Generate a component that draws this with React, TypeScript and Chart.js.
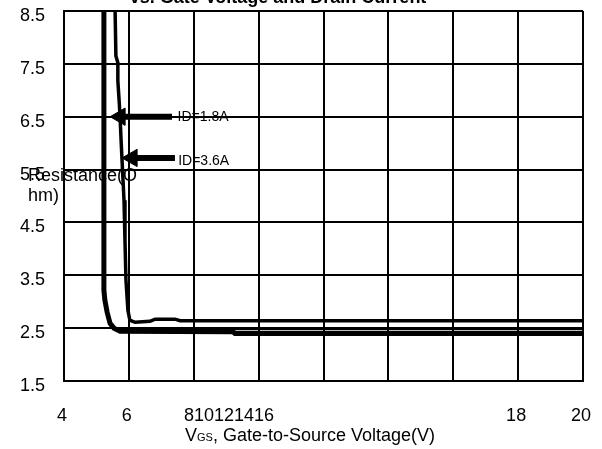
import React, { useEffect, useRef } from "react";
import { Chart, registerables } from "chart.js";

Chart.register(...registerables);

const FONT = "'Liberation Sans', Arial, Helvetica, sans-serif";

// ---- text ----
const TITLE = "vs. Gate Voltage and Drain Current";
const Y_TITLE_LINES = ["Resistance(O", "hm)"];
const X_TITLE_MAIN = "V";
const X_TITLE_SUB = "GS";
const X_TITLE_REST = ", Gate-to-Source Voltage(V)";

// ---- axes ----
const yTicks = [1.5, 2.5, 3.5, 4.5, 5.5, 6.5, 7.5, 8.5];
const xGridTicks = [4, 6, 8, 10, 12, 14, 16, 18, 20];
const xLabelValues = [4, 6, 9.15, 18, 20];
const xLabelTexts = ["4", "6", "810121416", "18", "20"];

// ---- series (Vgs, Rds(on) in Ohm) ----
const curveAX = [5.23, 5.23, 5.26, 5.33, 5.42, 5.54, 5.73, 9.21, 9.27, 20];
const curveAY = [8.7, 3.22, 3.03, 2.8, 2.59, 2.5, 2.44, 2.43, 2.4, 2.4];

const curveBX = [5.57, 5.6, 5.66, 5.66, 5.7, 5.73, 5.76, 5.79, 5.85, 5.88, 5.91, 5.97, 6.03, 6.19, 6.65, 6.81, 7.42, 7.58, 20];
const curveBY = [8.7, 7.65, 7.52, 7.18, 6.8, 6.48, 6.05, 5.67, 4.92, 4.16, 3.41, 2.84, 2.65, 2.61, 2.63, 2.67, 2.67, 2.64, 2.64];

const traceCX = [6.15, 20];
const traceCY = [2.475, 2.475];

// ---- arrows + labels ----
const arrowLabels = ["ID=1.8A", "ID=3.6A"];
const arrowHeadX = [5.73, 6.1];
const arrowTailX = [7.33, 7.42];
const arrowY = [6.5, 5.72];
const labelX = [7.5, 7.52];
const labelY = [6.5, 5.66];

const toPts = (xs: number[], ys: number[]) => xs.map((x, i) => ({ x, y: ys[i] }));

const textPlugin = {
  id: "textPlugin",
  afterDraw(chart: any) {
    const { ctx, chartArea, scales } = chart;
    const xs = scales.x;
    const ys = scales.y;
    ctx.save();
    ctx.fillStyle = "#000";

    // title (partly cut at the top)
    ctx.font = `bold 18px ${FONT}`;
    ctx.textAlign = "center";
    ctx.textBaseline = "alphabetic";
    ctx.fillText(TITLE, 278, 3);

    // y axis title, horizontal, wrapped
    ctx.font = `18px ${FONT}`;
    ctx.textAlign = "left";
    ctx.fillText(Y_TITLE_LINES[0], 28, 181);
    ctx.fillText(Y_TITLE_LINES[1], 28, 201);

    // x axis title with small "GS"
    let x = 185;
    const base = chartArea.bottom + 60;
    ctx.font = `18px ${FONT}`;
    ctx.fillText(X_TITLE_MAIN, x, base);
    x += ctx.measureText(X_TITLE_MAIN).width;
    ctx.font = `11px ${FONT}`;
    ctx.fillText(X_TITLE_SUB, x, base);
    x += ctx.measureText(X_TITLE_SUB).width;
    ctx.font = `18px ${FONT}`;
    ctx.fillText(X_TITLE_REST, x, base);

    // arrow labels
    ctx.font = `14px ${FONT}`;
    ctx.textBaseline = "middle";
    arrowLabels.forEach((t, i) => {
      ctx.fillText(t, xs.getPixelForValue(labelX[i]), ys.getPixelForValue(labelY[i]));
    });
    ctx.restore();
  },
};

export default function App() {
  const ref = useRef<HTMLCanvasElement | null>(null);

  useEffect(() => {
    if (!ref.current) return;
    const lineDs = (data: any[], w: number) => ({
      data,
      borderColor: "#000",
      backgroundColor: "#000",
      borderWidth: w,
      pointRadius: 0,
      tension: 0,
      fill: false,
    });
    const arrowDs = (i: number) => ({
      data: [
        { x: arrowHeadX[i], y: arrowY[i] },
        { x: arrowTailX[i], y: arrowY[i] },
      ],
      borderColor: "#000",
      backgroundColor: "#000",
      borderWidth: 6,
      pointRadius: [10, 0],
      pointStyle: "triangle",
      pointRotation: -90,
      pointBackgroundColor: "#000",
      pointBorderColor: "#000",
      pointBorderWidth: 1,
      tension: 0,
      fill: false,
    });

    const chart = new Chart(ref.current, {
      type: "line",
      data: {
        datasets: [
          lineDs(toPts(curveAX, curveAY), 5),
          lineDs(toPts(curveBX, curveBY), 3.5),
          lineDs(toPts(traceCX, traceCY), 1.5),
          arrowDs(0),
          arrowDs(1),
        ] as any,
      },
      options: {
        animation: false,
        responsive: true,
        maintainAspectRatio: false,
        layout: { padding: { top: 10, right: 19, left: 0, bottom: 0 } },
        plugins: { legend: { display: false }, tooltip: { enabled: false }, title: { display: false } },
        scales: {
          x: {
            type: "linear",
            position: "bottom",
            min: 4,
            max: 20,
            afterBuildTicks: (s: any) => {
              s.ticks = xGridTicks.map((v) => ({ value: v }));
            },
            ticks: { display: false },
            grid: { color: "#000", lineWidth: 2, drawTicks: false },
            border: { color: "#000", width: 2 },
            afterFit: (s: any) => {
              s.height = 0;
              s.paddingLeft = 0;
              s.paddingRight = 0;
            },
          },
          x2: {
            type: "linear",
            axis: "x",
            position: "bottom",
            min: 4,
            max: 20,
            afterBuildTicks: (s: any) => {
              s.ticks = xLabelValues.map((v) => ({ value: v }));
            },
            ticks: {
              autoSkip: false,
              maxRotation: 0,
              minRotation: 0,
              padding: 24,
              labelOffset: -2,
              color: "#000",
              font: { family: FONT, size: 18 },
              callback: (v: any) => {
                const i = xLabelValues.indexOf(Number(v));
                return i >= 0 ? xLabelTexts[i] : "";
              },
            },
            grid: { display: false, drawTicks: false },
            border: { display: false },
            afterFit: (s: any) => {
              s.height = 68;
              s.paddingLeft = 0;
              s.paddingRight = 0;
            },
          },
          y: {
            type: "linear",
            min: 1.5,
            max: 8.5,
            afterBuildTicks: (s: any) => {
              s.ticks = yTicks.map((v) => ({ value: v }));
            },
            ticks: {
              padding: 19,
              labelOffset: 5,
              color: "#000",
              font: { family: FONT, size: 18 },
              callback: (v: any) => Number(v).toFixed(1),
            },
            grid: { color: "#000", lineWidth: 2, drawTicks: false },
            border: { color: "#000", width: 2 },
            afterFit: (s: any) => {
              s.width = 64;
              s.paddingTop = 0;
              s.paddingBottom = 0;
            },
          },
        },
      } as any,
      plugins: [textPlugin],
    });
    return () => chart.destroy();
  }, []);

  return (
    <div style={{ position: "fixed", left: 0, top: 0, width: 602, height: 449, background: "#fff" }}>
      <canvas ref={ref} />
    </div>
  );
}
